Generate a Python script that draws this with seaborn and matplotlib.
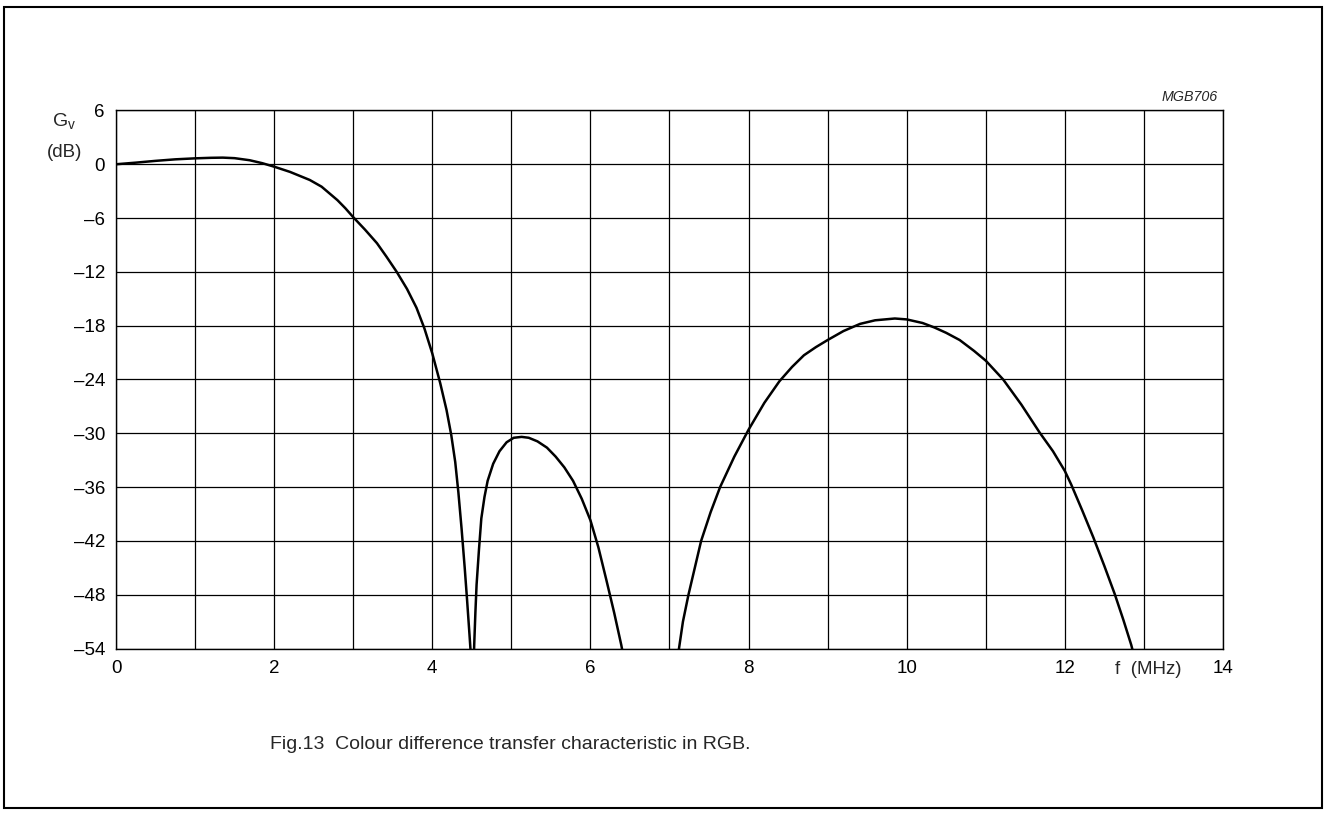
import pandas as pd
import seaborn as sns
import matplotlib.pyplot as plt
from matplotlib.patches import Rectangle

# curve, three lobes (f in MHz, Gv in dB)
F_LOBE1 = [0.0, 0.25, 0.5, 0.75, 1.0, 1.2, 1.35, 1.5, 1.69, 1.85, 2.0, 2.2, 2.45, 2.6, 2.8, 2.9,
           3.0, 3.15, 3.3, 3.42, 3.55, 3.68, 3.8, 3.9, 4.0, 4.1, 4.18, 4.24, 4.29, 4.33, 4.37,
           4.41, 4.44, 4.47, 4.49, 4.50]
G_LOBE1 = [0.0, 0.18, 0.38, 0.55, 0.66, 0.72, 0.74, 0.68, 0.45, 0.12, -0.27, -0.85, -1.75, -2.5,
           -4.0, -4.9, -5.9, -7.3, -8.8, -10.3, -12.0, -13.9, -16.0, -18.3, -21.1, -24.4, -27.4,
           -30.2, -33.2, -36.6, -40.6, -45.0, -48.6, -52.4, -55.0, -57.0]

F_LOBE2 = [4.52, 4.53, 4.545, 4.56, 4.59, 4.62, 4.66, 4.70, 4.77, 4.85, 4.94, 5.03, 5.13, 5.22,
           5.33, 5.45, 5.56, 5.67, 5.78, 5.89, 6.0, 6.1, 6.2, 6.3, 6.39, 6.42]
G_LOBE2 = [-57.0, -53.6, -50.0, -46.9, -43.0, -39.5, -37.1, -35.3, -33.4, -32.0, -31.0, -30.5,
           -30.4, -30.5, -30.9, -31.6, -32.6, -33.8, -35.3, -37.3, -39.7, -42.7, -46.3, -50.0,
           -53.6, -55.0]

F_LOBE3 = [7.10, 7.12, 7.17, 7.24, 7.32, 7.40, 7.52, 7.64, 7.82, 8.0, 8.2, 8.39, 8.55, 8.7, 8.85,
           9.0, 9.2, 9.41, 9.6, 9.85, 10.0, 10.2, 10.35, 10.5, 10.67, 10.85, 11.0, 11.22, 11.45,
           11.68, 11.85, 12.0, 12.08, 12.22, 12.36, 12.5, 12.63, 12.74, 12.84, 12.88]
G_LOBE3 = [-55.5, -54.0, -51.0, -48.0, -45.0, -42.0, -38.8, -36.0, -32.6, -29.6, -26.6, -24.2,
           -22.6, -21.3, -20.4, -19.6, -18.6, -17.8, -17.4, -17.2, -17.3, -17.7, -18.2, -18.8,
           -19.6, -20.8, -21.9, -24.0, -26.8, -29.9, -32.0, -34.2, -35.7, -38.6, -41.6, -44.8,
           -47.9, -50.8, -53.6, -55.0]

X_TICKS = [0, 2, 4, 6, 8, 10, 12, 14]
Y_TICKS = [6, 0, -6, -12, -18, -24, -30, -36, -42, -48, -54]

sns.set_style('white')
plt.rcParams['font.family'] = ['Liberation Sans', 'DejaVu Sans']

fig = plt.figure(figsize=(13.26, 8.14), dpi=100)
ax = fig.add_axes([0.0875, 0.2033, 0.8348, 0.661])

for f, g in [(F_LOBE1, G_LOBE1), (F_LOBE2, G_LOBE2), (F_LOBE3, G_LOBE3)]:
    seg = pd.DataFrame({'f': f, 'g': g})
    sns.lineplot(data=seg, x='f', y='g', sort=False, estimator=None,
                 color='black', linewidth=1.8, ax=ax, zorder=3)

ax.set_xlim(0, 14)
ax.set_ylim(-54, 6)
ax.set_xticks(range(0, 15))
ax.set_xticklabels([str(t) if t in X_TICKS else '' for t in range(0, 15)])
ax.set_yticks(Y_TICKS)
ax.set_yticklabels([str(t).replace('-', '\u2013') for t in Y_TICKS])
ax.grid(True, color='black', linewidth=0.9)
ax.tick_params(length=0, labelsize=13.5, colors='black')
ax.tick_params(axis='x', pad=8)
ax.tick_params(axis='y', pad=8)
for s in ax.spines.values():
    s.set_color('black')
    s.set_linewidth(1.0)
ax.set_xlabel('')
ax.set_ylabel('')

# axis titles placed like the datasheet
fig.text(0.048, 0.850, r'G$_\mathregular{v}$', fontsize=14, ha='center', va='center')
fig.text(0.049, 0.813, '(dB)', fontsize=13.5, ha='center', va='center')
ax.annotate('f  (MHz)', xy=(13.05, -54), xycoords='data', xytext=(0, -9),
            textcoords='offset points', fontsize=13.5, ha='center', va='top')
fig.text(0.9185, 0.881, 'MGB706', fontsize=10.3, style='italic', ha='right', va='center')

fig.text(0.385, 0.085, 'Fig.13  Colour difference transfer characteristic in RGB.',
         fontsize=14, ha='center', va='center')

fig.add_artist(Rectangle((0.003, 0.0074), 0.994, 0.9836, transform=fig.transFigure,
                         fill=False, edgecolor='black', linewidth=1.5))

fig.savefig('out.png', dpi=100)
